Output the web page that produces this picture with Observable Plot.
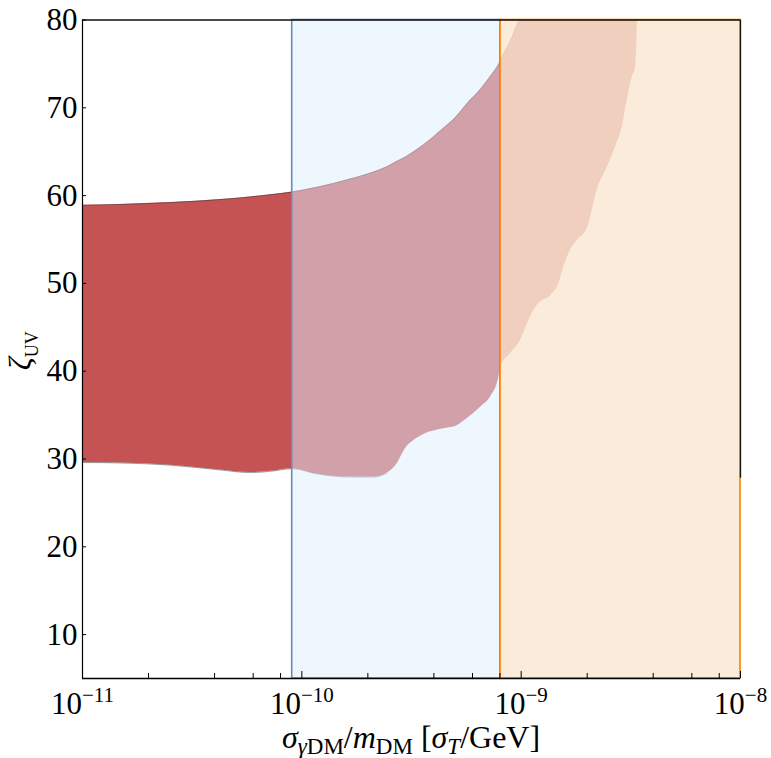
<!DOCTYPE html>
<html><head><meta charset="utf-8">
<script src="https://cdn.jsdelivr.net/npm/d3@7"></script>
<script src="https://cdn.jsdelivr.net/npm/@observablehq/plot@0.6"></script>
<style>body{margin:0;background:#fff}</style>
</head><body><div id="chart"></div>
<script>
// sigma/m values (x) along the constrained region
const xs = [1e-11, 1.49e-11, 2.52e-11, 4.26e-11, 5.83e-11, 7.2e-11, 9.04e-11, 1.175e-10, 1.667e-10, 2.13e-10,
  2.45e-10, 2.72e-10, 2.97e-10, 3.24e-10, 3.6e-10, 4.44e-10, 5.02e-10, 5.68e-10, 6.53e-10, 7.25e-10,
  7.91e-10, 8.05e-10, 8.94e-10, 9.93e-10, 1.103e-9, 1.203e-9, 1.361e-9, 1.484e-9, 1.565e-9, 1.679e-9,
  1.8e-9, 2.0e-9, 2.07e-9, 2.22e-9, 2.47e-9, 2.69e-9, 2.89e-9, 3.04e-9, 3.21e-9, 3.32e-9, 3.37e-9, 3.39e-9];
// lower edge of zeta_UV region
const lower = [29.6, 29.55, 29.3, 28.75, 28.45, 28.6, 28.9, 28.3, 27.95, 27.95,
  28.4, 29.47, 31.2, 32.1, 32.8, 33.45, 33.7, 34.6, 35.9, 37.05,
  39.3, 40.5, 42.0, 43.5, 46.2, 47.7, 48.6, 49.96, 51.85, 53.8,
  54.9, 56.2, 57.5, 60.6, 63.2, 65.5, 67.8, 70.8, 73.5, 74.6, 77.7, 80];
// upper edge of zeta_UV region
const upper = [58.9, 59.0, 59.2, 59.55, 59.85, 60.1, 60.4, 60.95, 61.9, 62.7,
  63.3, 63.9, 64.4, 65.0, 65.8, 67.7, 68.9, 70.5, 72.1, 73.6,
  75.0, 75.4, 77.6, 80, 80, 80, 80, 80, 80, 80,
  80, 80, 80, 80, 80, 80, 80, 80, 80, 80, 80, 80];
const blueBand = [9.04e-11, 8.05e-10];
const orangeBand = [8.05e-10, 1e-8];
const rightFrameFrom = 27.8;
const xDomain = [1e-11, 1e-8];
const yDomain = [5, 80];
const xMajor = [1e-11, 1e-10, 1e-9, 1e-8];
const xMinor = [2e-11, 4e-11, 6e-11, 8e-11, 2e-10, 4e-10, 6e-10, 8e-10, 2e-9, 4e-9, 6e-9, 8e-9];
const yTicks = [10, 20, 30, 40, 50, 60, 70, 80];

const table = xs.map((x, i) => ({x, lo: lower[i], hi: upper[i]}));
const upperEdge = table.filter(d => d.x <= 1e-9);
const lowerEdge = table.filter(d => d.x <= 2.5e-10);
const FONT = "Liberation Serif";

const plot = Plot.plot({
  width: 771, height: 758,
  marginLeft: 82, marginRight: 31, marginTop: 19.5, marginBottom: 80,
  style: {fontFamily: FONT, background: "white", color: "black"},
  x: {type: "log", domain: xDomain, label: null},
  y: {domain: yDomain, label: null},
  marks: [
    Plot.areaY(table, {x: "x", y1: "lo", y2: "hi", fill: "#C55353", curve: "monotone-x"}),
    Plot.line(upperEdge, {x: "x", y: "hi", stroke: "#333", strokeWidth: 0.8, strokeOpacity: 0.6, curve: "monotone-x"}),
    Plot.line(lowerEdge, {x: "x", y: "lo", stroke: "#333", strokeWidth: 0.8, strokeOpacity: 0.6, curve: "monotone-x"}),
    Plot.rect([blueBand], {x1: d => d[0], x2: d => d[1], y1: yDomain[0], y2: yDomain[1],
      fill: "rgb(221,237,253)", fillOpacity: 0.5, stroke: "#6A8AB8", strokeWidth: 1.6}),
    Plot.rect([orangeBand], {x1: d => d[0], x2: d => d[1], y1: yDomain[0], y2: yDomain[1],
      fill: "rgb(249,231,212)", fillOpacity: 0.84, stroke: "#FF8000", strokeWidth: 1.6}),
    Plot.ruleX([xDomain[0]], {stroke: "black", strokeWidth: 1.2}),
    Plot.ruleY([yDomain[0]], {stroke: "black", strokeWidth: 1.3}),
    Plot.ruleY([yDomain[1]], {stroke: "#111", strokeWidth: 1.3}),
    Plot.ruleX([xDomain[1]], {y1: rightFrameFrom, y2: yDomain[1], stroke: "#1a1206", strokeWidth: 1.3}),
    Plot.axisX({ticks: xMajor, tickSize: -7, tickFormat: () => "", label: null}),
    Plot.axisX({ticks: xMinor, tickSize: -5, tickFormat: () => "", label: null}),
    Plot.axisX({ticks: xMajor, tickSize: 0, tickPadding: 13, fontSize: 31, fontFamily: FONT, fill: "black",
      tickFormat: d => String(Math.round(Math.log10(d))), label: null}),
    Plot.axisY({ticks: yTicks, tickSize: -4, tickFormat: () => "", label: null}),
    Plot.axisY({ticks: yTicks, tickSize: 0, tickPadding: 5, fontSize: 31, fontFamily: FONT, fill: "black", label: null})
  ]
});

const ns = "http://www.w3.org/2000/svg";
plot.querySelectorAll('g[aria-label="x-axis tick label"] text').forEach(t => {
  const e = t.textContent.replace("-", "\u2212");
  if (!e) return;
  t.textContent = "";
  const a = document.createElementNS(ns, "tspan"); a.textContent = "10"; t.appendChild(a);
  const b = document.createElementNS(ns, "tspan"); b.textContent = e;
  b.setAttribute("font-size", 21); b.setAttribute("dy", "-12"); t.appendChild(b);
});

const sx = plot.scale("x"), sy = plot.scale("y");
const cx = (sx.apply(xDomain[0]) + sx.apply(xDomain[1])) / 2;
const cy = (sy.apply(yDomain[0]) + sy.apply(yDomain[1])) / 2;
const s = d3.select(plot);
const yl = s.append("text").attr("transform", `translate(31,${cy + 2}) rotate(-90)`)
  .attr("text-anchor", "middle").attr("font-family", FONT).attr("font-size", 32).attr("fill", "black");
yl.append("tspan").attr("font-style", "italic").text("ζ");
yl.append("tspan").attr("font-size", 18).attr("dy", 7).text("UV");

const xl = s.append("text").attr("x", cx).attr("y", 748).attr("text-anchor", "middle")
  .attr("font-family", FONT).attr("font-size", 32).attr("fill", "black");
xl.append("tspan").attr("font-style", "italic").text("σ");
xl.append("tspan").attr("font-size", 23).attr("dy", 6).attr("font-style", "italic").text("γ");
xl.append("tspan").attr("font-size", 23).text("DM");
xl.append("tspan").attr("dy", -6).text("/");
xl.append("tspan").attr("font-style", "italic").text("m");
xl.append("tspan").attr("font-size", 23).attr("dy", 6).text("DM");
xl.append("tspan").attr("dy", -6).text(" [");
xl.append("tspan").attr("font-style", "italic").text("σ");
xl.append("tspan").attr("font-size", 23).attr("dy", 6).attr("font-style", "italic").text("T");
xl.append("tspan").attr("dy", -6).text("/GeV]");

document.getElementById("chart").appendChild(plot);
</script>
</body></html>
